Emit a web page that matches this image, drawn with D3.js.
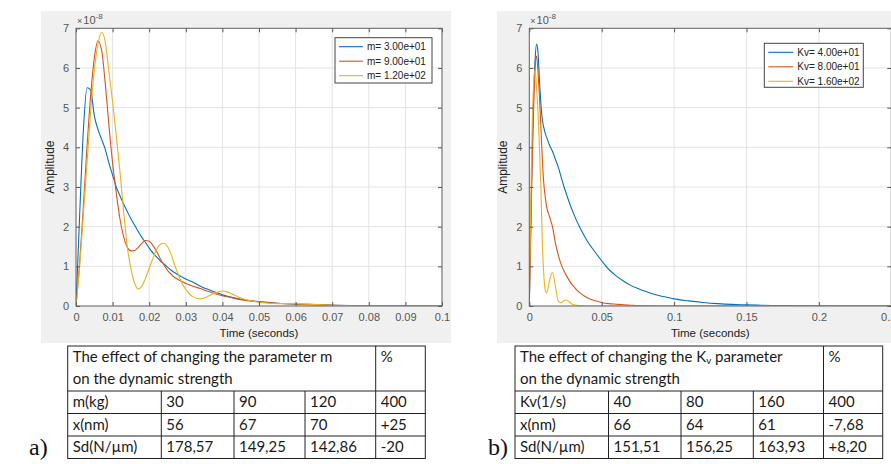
<!DOCTYPE html>
<html><head><meta charset="utf-8">
<script src="https://cdn.jsdelivr.net/npm/d3@7"></script>
<style>body{margin:0;background:#fff}svg{display:block}</style>
</head><body><svg id="c" width="891" height="464"></svg>
<script>
// ---------- DATA (amplitudes in units of 1e-8) ----------
const timeA = [0,0.001,0.002,0.003,0.004,0.005,0.006,0.007,0.008,0.009,0.010,0.011,0.012,0.013,0.014,0.015,0.016,0.017,0.018,0.019,0.020,0.021,0.022,0.023,0.024,0.025,0.026,0.027,0.028,0.029,0.030,0.032,0.034,0.036,0.038,0.040,0.042,0.045,0.050,0.055,0.060,0.065,0.070,0.075,0.080,0.090,0.100];
const ampM30 = [0,2.3,4.4,5.5,5.45,4.8,4.45,4.2,3.95,3.6,3.3,3.0,2.78,2.57,2.38,2.2,2.04,1.88,1.73,1.6,1.46,1.34,1.24,1.14,1.06,0.98,0.9,0.84,0.78,0.73,0.68,0.6,0.5,0.42,0.35,0.28,0.23,0.17,0.11,0.07,0.045,0.03,0.02,0.012,0.008,0.003,0.001];
const ampM90 = [0,1.1,2.5,4.0,5.3,6.25,6.68,6.45,5.6,4.55,3.6,2.85,2.2,1.75,1.48,1.39,1.4,1.48,1.58,1.65,1.63,1.53,1.38,1.2,1.04,0.9,0.8,0.72,0.66,0.61,0.57,0.5,0.44,0.37,0.31,0.26,0.22,0.16,0.1,0.07,0.05,0.035,0.02,0.012,0.007,0.002,0.001];
const ampM120 = [0,1.0,2.3,3.6,4.9,5.95,6.6,6.9,6.65,5.9,5.15,4.3,3.4,2.4,1.5,0.95,0.58,0.43,0.5,0.7,0.95,1.2,1.42,1.55,1.58,1.5,1.3,1.02,0.78,0.57,0.42,0.23,0.18,0.24,0.33,0.38,0.33,0.2,0.1,0.06,0.06,0.04,0.015,0.008,0.004,0.001,0];

const timeB = [0,0.001,0.002,0.003,0.004,0.005,0.006,0.007,0.008,0.009,0.010,0.011,0.012,0.014,0.016,0.018,0.020,0.022,0.024,0.026,0.028,0.030,0.035,0.040,0.045,0.050,0.055,0.060,0.065,0.070,0.075,0.080,0.085,0.090,0.095,0.100,0.11,0.12,0.13,0.14,0.15,0.16,0.17,0.18,0.19,0.20,0.21,0.22,0.23,0.24,0.25];
const ampKv40 = [0,2.0,3.9,5.3,6.2,6.6,6.4,5.7,5.1,4.7,4.5,4.35,4.25,4.05,3.9,3.7,3.5,3.25,3.0,2.78,2.57,2.38,1.97,1.64,1.38,1.14,0.92,0.76,0.63,0.52,0.44,0.37,0.31,0.26,0.22,0.18,0.13,0.09,0.06,0.04,0.03,0.02,0.012,0.008,0.005,0.003,0.002,0.001,0.001,0,0];
const ampKv80 = [0,1.8,3.6,5.0,6.0,6.3,5.9,5.3,4.5,3.7,3.1,2.75,2.5,2.25,2.0,1.6,1.28,1.05,0.88,0.74,0.62,0.52,0.33,0.21,0.14,0.09,0.06,0.045,0.03,0.02,0.01,0.005,0.002,0.001,0,0,0,0,0,0,0,0,0,0,0,0,0,0,0,0,0];
const ampKv160 = [0,2.6,4.5,5.6,5.95,5.5,4.9,4.0,3.0,1.6,0.8,0.4,0.33,0.65,0.85,0.5,0.12,0.08,0.14,0.15,0.09,0.04,0.01,0,0,0,0,0,0,0,0,0,0,0,0,0,0,0,0,0,0,0,0,0,0,0,0,0,0,0,0];

const seriesColors = ["#0072BD","#D95319","#EDB120"];
const legendA = ["m= 3.00e+01","m= 9.00e+01","m= 1.20e+02"];
const legendB = ["Kv= 4.00e+01","Kv= 8.00e+01","Kv= 1.60e+02"];
const xTicksA = [0,0.01,0.02,0.03,0.04,0.05,0.06,0.07,0.08,0.09,0.1];
const xTickLabelsA = ["0","0.01","0.02","0.03","0.04","0.05","0.06","0.07","0.08","0.09","0.1"];
const xTicksB = [0,0.05,0.1,0.15,0.2,0.25];
const xTickLabelsB = ["0","0.05","0.1","0.15","0.2","0.25"];
const yTicks = [0,1,2,3,4,5,6,7];
const xTitle = "Time (seconds)";
const yTitle = "Amplitude";

const tableAHeader = ["The effect of changing the parameter m","on the dynamic strength"];
const tableARows = [["m(kg)","30","90","120","400"],["x(nm)","56","67","70","+25"],["Sd(N/\u00b5m)","178,57","149,25","142,86","-20"]];
const tableBHeader = ["The effect of changing the K|v| parameter","on the dynamic strength"];
const tableBRows = [["Kv(1/s)","40","80","160","400"],["x(nm)","66","64","61","-7,68"],["Sd(N/\u00b5m)","151,51","156,25","163,93","+8,20"]];

// ---------- DRAW ----------
const svg = d3.select("#c");
const F = "'Liberation Sans', Arial, sans-serif";

function panel(cfg){
  const g = svg.append("g");
  g.append("rect").attr("x",cfg.bg[0]).attr("y",cfg.bg[1]).attr("width",cfg.bg[2]).attr("height",cfg.bg[3]).attr("fill","#f0f0f0");
  const x = d3.scaleLinear().domain(cfg.xDomain).range([cfg.x0,cfg.x1]);
  const y = d3.scaleLinear().domain([0,7]).range([cfg.y1,cfg.y0]);
  g.append("rect").attr("x",cfg.x0).attr("y",cfg.y0).attr("width",cfg.x1-cfg.x0).attr("height",cfg.y1-cfg.y0).attr("fill","#fff");
  // grid
  const gg = g.append("g").attr("stroke","#e3e3e3").attr("stroke-width",1);
  cfg.xTicks.forEach(t=>gg.append("line").attr("x1",x(t)).attr("x2",x(t)).attr("y1",cfg.y0).attr("y2",cfg.y1));
  yTicks.forEach(t=>gg.append("line").attr("x1",cfg.x0).attr("x2",cfg.x1).attr("y1",y(t)).attr("y2",y(t)));
  // curves
  const cid = "clip"+cfg.id;
  g.append("clipPath").attr("id",cid).append("rect").attr("x",cfg.x0).attr("y",cfg.y0-2).attr("width",cfg.x1-cfg.x0).attr("height",cfg.y1-cfg.y0+2);
  const line = d3.line().x(d=>x(d[0])).y(d=>y(d[1])).curve(d3.curveMonotoneX);
  cfg.series.forEach((s,i)=>{
    g.append("path").attr("clip-path","url(#"+cid+")").attr("d",line(cfg.time.map((t,k)=>[t,s[k]])))
      .attr("fill","none").attr("stroke",seriesColors[i]).attr("stroke-width",1.1);
  });
  // axes (ticks inward)
  const ax = g.append("g").attr("transform",`translate(0,${cfg.y1})`)
    .call(d3.axisBottom(x).tickValues(cfg.xTicks).tickFormat((d,i)=>cfg.xLabels[i]).tickSizeInner(-4).tickSizeOuter(0).tickPadding(7));
  ax.select(".domain").remove();
  ax.selectAll("line").attr("stroke","#555");
  ax.selectAll("text").attr("font-family",F).attr("font-size",11).attr("fill","#555");
  const axT = g.append("g").attr("transform",`translate(0,${cfg.y0})`)
    .call(d3.axisTop(x).tickValues(cfg.xTicks).tickFormat("").tickSizeInner(-4).tickSizeOuter(0));
  axT.select(".domain").remove(); axT.selectAll("line").attr("stroke","#555");
  const ay = g.append("g").attr("transform",`translate(${cfg.x0},0)`)
    .call(d3.axisLeft(y).tickValues(yTicks).tickFormat(d3.format("d")).tickSizeInner(-4).tickSizeOuter(0).tickPadding(7));
  ay.select(".domain").remove(); ay.selectAll("line").attr("stroke","#555");
  ay.selectAll("text").attr("font-family",F).attr("font-size",11).attr("fill","#555");
  const ayR = g.append("g").attr("transform",`translate(${cfg.x1},0)`)
    .call(d3.axisRight(y).tickValues(yTicks).tickFormat("").tickSizeInner(-4).tickSizeOuter(0));
  ayR.select(".domain").remove(); ayR.selectAll("line").attr("stroke","#555");
  g.append("rect").attr("x",cfg.x0).attr("y",cfg.y0).attr("width",cfg.x1-cfg.x0).attr("height",cfg.y1-cfg.y0)
    .attr("fill","none").attr("stroke","#666").attr("stroke-width",1);
  // exponent
  const ex = g.append("text").attr("x",cfg.x0+1).attr("y",cfg.y0-4).attr("font-family",F).attr("fill","#555");
  ex.append("tspan").attr("font-size",9).text("\u00d7");
  ex.append("tspan").attr("font-size",11).attr("dx",1).text("10");
  ex.append("tspan").attr("font-size",8).attr("dy",-5).text("-8");
  // titles
  g.append("text").attr("x",(cfg.x0+cfg.x1)/2).attr("y",cfg.y1+31).attr("text-anchor","middle")
    .attr("font-family",F).attr("font-size",11.5).attr("fill","#222").text(xTitle);
  g.append("text").attr("transform",`translate(${cfg.x0-22},${(cfg.y0+cfg.y1)/2}) rotate(-90)`).attr("text-anchor","middle")
    .attr("font-family",F).attr("font-size",12).attr("fill","#222").text(yTitle);
  // legend
  const L = cfg.legend;
  const lg = g.append("g");
  lg.append("rect").attr("x",L.x).attr("y",L.y).attr("width",L.w).attr("height",L.h).attr("fill","#fff").attr("stroke","#444").attr("stroke-width",1);
  cfg.legendText.forEach((t,i)=>{
    const yy = L.y + 9 + i*14.5;
    lg.append("line").attr("x1",L.x+4).attr("x2",L.x+4+L.lw).attr("y1",yy).attr("y2",yy).attr("stroke",seriesColors[i]).attr("stroke-width",1.1);
    lg.append("text").attr("x",L.x+8+L.lw).attr("y",yy+3.5).attr("font-family",F).attr("font-size",10).attr("fill","#222").text(t);
  });
}

panel({id:"A",bg:[41,11,410,332],x0:76,x1:442,y0:28.3,y1:306,xDomain:[0,0.1],xTicks:xTicksA,xLabels:xTickLabelsA,
  time:timeA,series:[ampM30,ampM90,ampM120],legendText:legendA,legend:{x:335,y:37.7,w:97,h:45.3,lw:24}});
panel({id:"B",bg:[497,11,400,332],x0:529.3,x1:891.3,y0:28.3,y1:306,xDomain:[0,0.25],xTicks:xTicksB,xLabels:xTickLabelsB,
  time:timeB,series:[ampKv40,ampKv80,ampKv160],legendText:legendB,legend:{x:764.3,y:43.3,w:99,h:44,lw:25}});

// ---------- TABLES ----------
const TF = "Lato, 'Open Sans', sans-serif";
function table(cols, rowsY, header, rows, label, labelX){
  const g = svg.append("g");
  const st = "#222";
  const x0 = cols[0], x1 = cols[cols.length-1];
  g.append("rect").attr("x",x0).attr("y",rowsY[0]).attr("width",x1-x0).attr("height",rowsY[rowsY.length-1]-rowsY[0]).attr("fill","none").attr("stroke",st);
  rowsY.slice(1,-1).forEach(yv=>g.append("line").attr("x1",x0).attr("x2",x1).attr("y1",yv).attr("y2",yv).attr("stroke",st));
  g.append("line").attr("x1",cols[4]).attr("x2",cols[4]).attr("y1",rowsY[0]).attr("y2",rowsY[rowsY.length-1]).attr("stroke",st);
  [1,2,3].forEach(c=>g.append("line").attr("x1",cols[c]).attr("x2",cols[c]).attr("y1",rowsY[1]).attr("y2",rowsY[rowsY.length-1]).attr("stroke",st));
  const fs = 15;
  header.forEach((h,i)=>{
    const t = g.append("text").attr("x",x0+5).attr("y",rowsY[0]+16+i*22).attr("font-family",TF).attr("font-size",fs).attr("fill","#1a1a1a");
    const parts = h.split("|");
    parts.forEach((p,k)=>{
      if(k%2===1) t.append("tspan").attr("font-size",fs*0.65).attr("dy",2).text(p);
      else t.append("tspan").attr("dy",k>0?-2:0).text(p);
    });
  });
  g.append("text").attr("x",cols[4]+5).attr("y",rowsY[0]+16).attr("font-family",TF).attr("font-size",fs).attr("fill","#1a1a1a").text("%");
  rows.forEach((r,ri)=>{
    const yc = (rowsY[ri+1]+rowsY[ri+2])/2;
    r.forEach((v,ci)=>{
      g.append("text").attr("x",cols[ci]+5).attr("y",yc+5).attr("font-family",TF).attr("font-size",fs).attr("fill","#1a1a1a").text(v);
    });
  });
  svg.append("text").attr("x",labelX).attr("y",455).attr("font-family","'Liberation Serif', 'Times New Roman', serif").attr("font-size",24).attr("fill","#111").text(label);
}
table([67.7,161.3,234,305,375.7,425.3],[346,391,413.5,436,458.5],tableAHeader,tableARows,"a)",29);
table([515,608.5,681,753.3,823.5,882.7],[346,391,413.5,436,458.5],tableBHeader,tableBRows,"b)",488);
</script></body></html>
